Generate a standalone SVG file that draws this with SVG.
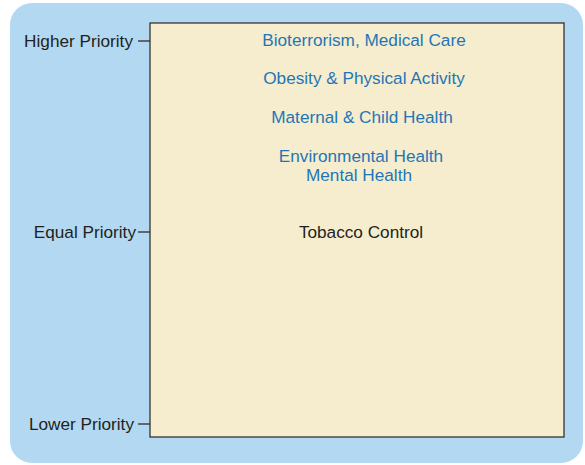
<svg xmlns="http://www.w3.org/2000/svg" width="585" height="465" viewBox="0 0 585 465">
<style>
.t{font-family:"Liberation Sans",Arial,sans-serif;font-size:17.2px}
.b{fill:#1f76b6;text-anchor:middle}
.k{fill:#231f20}
.l{fill:#231f20;text-anchor:end}
.tick{stroke:#231f20;stroke-width:1.2}
</style>
<rect x="10" y="3" width="573" height="460" rx="22" fill="#b3d8f1"/>
<g id="chart">
<rect x="150" y="23" width="414" height="414" fill="#f6edcf" stroke="#333" stroke-width="1.3"/>
</g>
<g id="axis">
<g id="higher"><text class="t l" x="133" y="47">Higher Priority</text></g>
<g id="equal"><text class="t l" x="136" y="238">Equal Priority</text></g>
<g id="lower"><text class="t l" x="134" y="430">Lower Priority</text></g>
</g>
<g id="connectors">
<line class="tick" x1="138" y1="41" x2="150" y2="41"/>
<line class="tick" x1="138" y1="232" x2="150" y2="232"/>
<line class="tick" x1="138" y1="424" x2="150" y2="424"/>
</g>
<g id="items">
<g id="bio"><text class="t b" x="364" y="46">Bioterrorism, Medical Care</text></g>
<g id="obesity"><text class="t b" x="364" y="84">Obesity &amp; Physical Activity</text></g>
<g id="maternal"><text class="t b" x="362" y="123">Maternal &amp; Child Health</text></g>
<g id="env"><text class="t b" x="361" y="162">Environmental Health</text><text class="t b" x="359" y="181">Mental Health</text></g>
<g id="tobacco"><text class="t k" x="361" y="238" text-anchor="middle">Tobacco Control</text></g>
</g>
</svg>
